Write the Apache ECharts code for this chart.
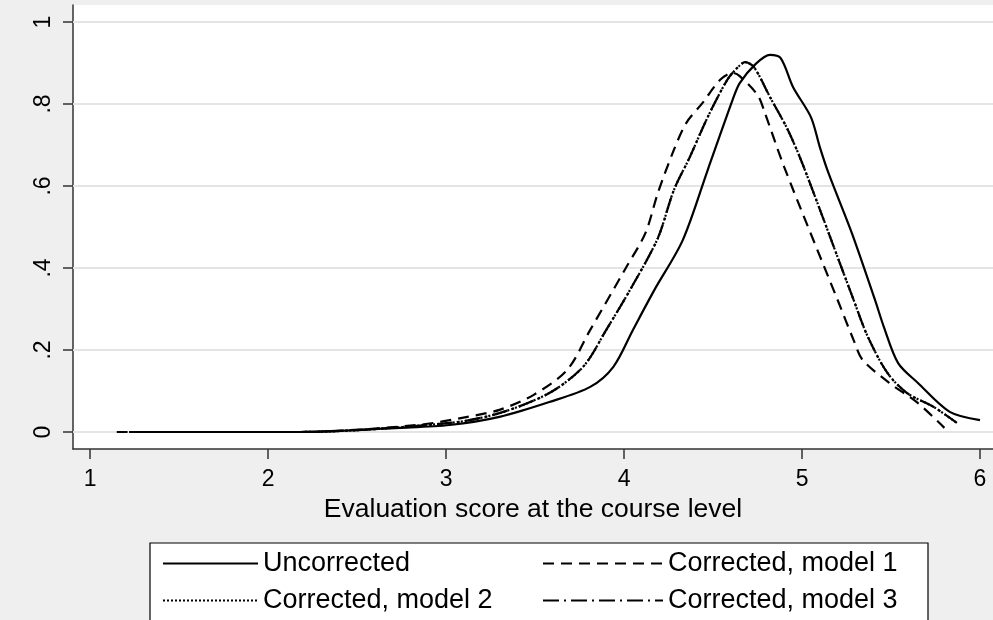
<!DOCTYPE html>
<html>
<head>
<meta charset="utf-8">
<script src="https://cdn.jsdelivr.net/npm/echarts@6/dist/echarts.min.js"></script>
<style>
  html, body { margin: 0; padding: 0; background: #efefef; }
  #chart { width: 993px; height: 620px; }
</style>
</head>
<body>
<div id="chart"></div>
<script>
// tick positions + labels
const xTicks = [1, 2, 3, 4, 5, 6];
const yTicks = [0, 0.2, 0.4, 0.6, 0.8, 1];
const yTickLabels = ["0", ".2", ".4", ".6", ".8", "1"];

const seriesNames = ["Uncorrected", "Corrected, model 1", "Corrected, model 2", "Corrected, model 3"];

// kernel density curves
const uncorrX = [1.30, 1.62, 2.18, 2.74, 3.02, 3.30, 3.58, 3.81, 3.94, 4.05, 4.17, 4.33, 4.47, 4.61, 4.65, 4.74, 4.82, 4.88, 4.95, 5.05, 5.10, 5.15, 5.28, 5.41, 5.46, 5.54, 5.65, 5.83, 6.00];
const uncorrY = [0, 0, 0, 0.010, 0.017, 0.037, 0.073, 0.110, 0.159, 0.249, 0.346, 0.468, 0.639, 0.810, 0.851, 0.898, 0.920, 0.912, 0.841, 0.768, 0.695, 0.630, 0.485, 0.322, 0.256, 0.168, 0.120, 0.049, 0.029];

const model1X = [1.15, 1.60, 2.18, 2.84, 3.12, 3.30, 3.49, 3.68, 3.81, 4.01, 4.12, 4.19, 4.28, 4.35, 4.44, 4.54, 4.61, 4.65, 4.75, 4.79, 4.90, 5.20, 5.29, 5.34, 5.49, 5.65, 5.80];
const model1Y = [0, 0, 0, 0.017, 0.037, 0.054, 0.090, 0.151, 0.249, 0.400, 0.485, 0.583, 0.688, 0.754, 0.802, 0.859, 0.876, 0.868, 0.822, 0.780, 0.646, 0.322, 0.224, 0.176, 0.120, 0.071, 0.010];

// model 2 sits right under model 3 in the picture
const model2X = [1.22, 1.60, 2.18, 3.02, 3.30, 3.58, 3.77, 3.90, 4.05, 4.19, 4.28, 4.37, 4.47, 4.58, 4.64, 4.68, 4.73, 4.82, 4.92, 5.01, 5.29, 5.37, 5.48, 5.59, 5.74, 5.87];
const model2Y = [0, 0, 0, 0.022, 0.046, 0.095, 0.159, 0.249, 0.359, 0.473, 0.590, 0.671, 0.768, 0.859, 0.890, 0.902, 0.890, 0.817, 0.737, 0.646, 0.322, 0.232, 0.144, 0.095, 0.061, 0.022];

const model3X = [1.22, 1.60, 2.18, 3.02, 3.30, 3.58, 3.77, 3.90, 4.05, 4.19, 4.28, 4.37, 4.47, 4.58, 4.64, 4.68, 4.73, 4.82, 4.92, 5.01, 5.29, 5.37, 5.48, 5.59, 5.74, 5.87];
const model3Y = [0, 0, 0, 0.022, 0.046, 0.095, 0.159, 0.249, 0.359, 0.473, 0.590, 0.671, 0.768, 0.859, 0.890, 0.902, 0.890, 0.817, 0.737, 0.646, 0.322, 0.232, 0.144, 0.095, 0.061, 0.022];

const pairs = (xs, ys) => xs.map((x, i) => [x, ys[i]]);

const font = "'Liberation Sans', Arial, sans-serif";

const chart = echarts.init(document.getElementById("chart"), null, { renderer: "canvas" });

const lineSeries = (name, xs, ys, type, z) => ({
  name: name,
  type: "line",
  data: pairs(xs, ys),
  symbol: "none",
  smooth: 0.3,
  z: z,
  lineStyle: { color: "#000", width: 2.2, type: type },
  itemStyle: { color: "#000" },
  silent: true,
});

// one legend per entry so the 2x2 layout lines up like the original
const legendBox = (name, left, top, w) => ({
  data: [name],
  left: left,
  top: top,
  padding: 0,
  itemWidth: w,
  itemHeight: 14,
  itemStyle: { opacity: 0 }, // hide the circle, keep the line sample
  textStyle: { color: "#000", fontSize: 27, fontFamily: font },
  selectedMode: false,
});

const option = {
  backgroundColor: "#efefef",
  animation: false,
  grid: { left: 73, right: 0, top: 5, bottom: 171, backgroundColor: "#fff", show: true, borderWidth: 0 },
  xAxis: {
    type: "value",
    min: 0.904,
    max: 6.073,
    name: "Evaluation score at the course level",
    nameLocation: "middle",
    nameGap: 44,
    nameTextStyle: { color: "#000", fontSize: 26.5, fontFamily: font },
    axisLine: { show: true, onZero: false, lineStyle: { color: "#333", width: 1.5 } },
    axisTick: { show: true, length: 10, customValues: xTicks, lineStyle: { color: "#333", width: 1.5 } },
    axisLabel: { customValues: xTicks, margin: 19, color: "#000", fontSize: 23, fontFamily: font },
    splitLine: { show: false },
  },
  yAxis: {
    type: "value",
    min: -0.0415,
    max: 1.0415,
    axisLine: { show: true, onZero: false, lineStyle: { color: "#333", width: 1.5 } },
    axisTick: { show: true, length: 10, customValues: yTicks, lineStyle: { color: "#333", width: 1.5 } },
    axisLabel: {
      customValues: yTicks,
      rotate: 90,
      margin: 18,
      color: "#000",
      fontSize: 23,
      fontFamily: font,
      formatter: (v) => yTickLabels[yTicks.indexOf(v)] ?? "",
    },
    splitLine: { show: false },
  },
  legend: [
    legendBox(seriesNames[0], 162, 550, 95),
    legendBox(seriesNames[1], 542, 550, 120),
    legendBox(seriesNames[2], 162, 587, 95),
    legendBox(seriesNames[3], 542, 587, 120),
  ],
  graphic: [
    {
      type: "rect",
      z: -1,
      shape: { x: 150, y: 543, width: 778, height: 90 },
      style: { fill: "#fff", stroke: "#000", lineWidth: 1.2 },
    },
  ],
  series: [
    {
      // horizontal grid lines at the y ticks, kept under the curves
      type: "line",
      data: [],
      z: 1,
      silent: true,
      markLine: {
        z: 1,
        silent: true,
        symbol: "none",
        label: { show: false },
        lineStyle: { color: "#e4e4e4", width: 2, type: "solid" },
        data: yTicks.map((v) => ({ yAxis: v })),
      },
    },
    lineSeries(seriesNames[0], uncorrX, uncorrY, "solid", 13),
    lineSeries(seriesNames[1], model1X, model1Y, [11, 7], 12),
    lineSeries(seriesNames[2], model2X, model2Y, [2, 2], 10),
    lineSeries(seriesNames[3], model3X, model3Y, [16, 5, 2, 5], 11),
  ],
};

chart.setOption(option);
</script>
</body>
</html>
